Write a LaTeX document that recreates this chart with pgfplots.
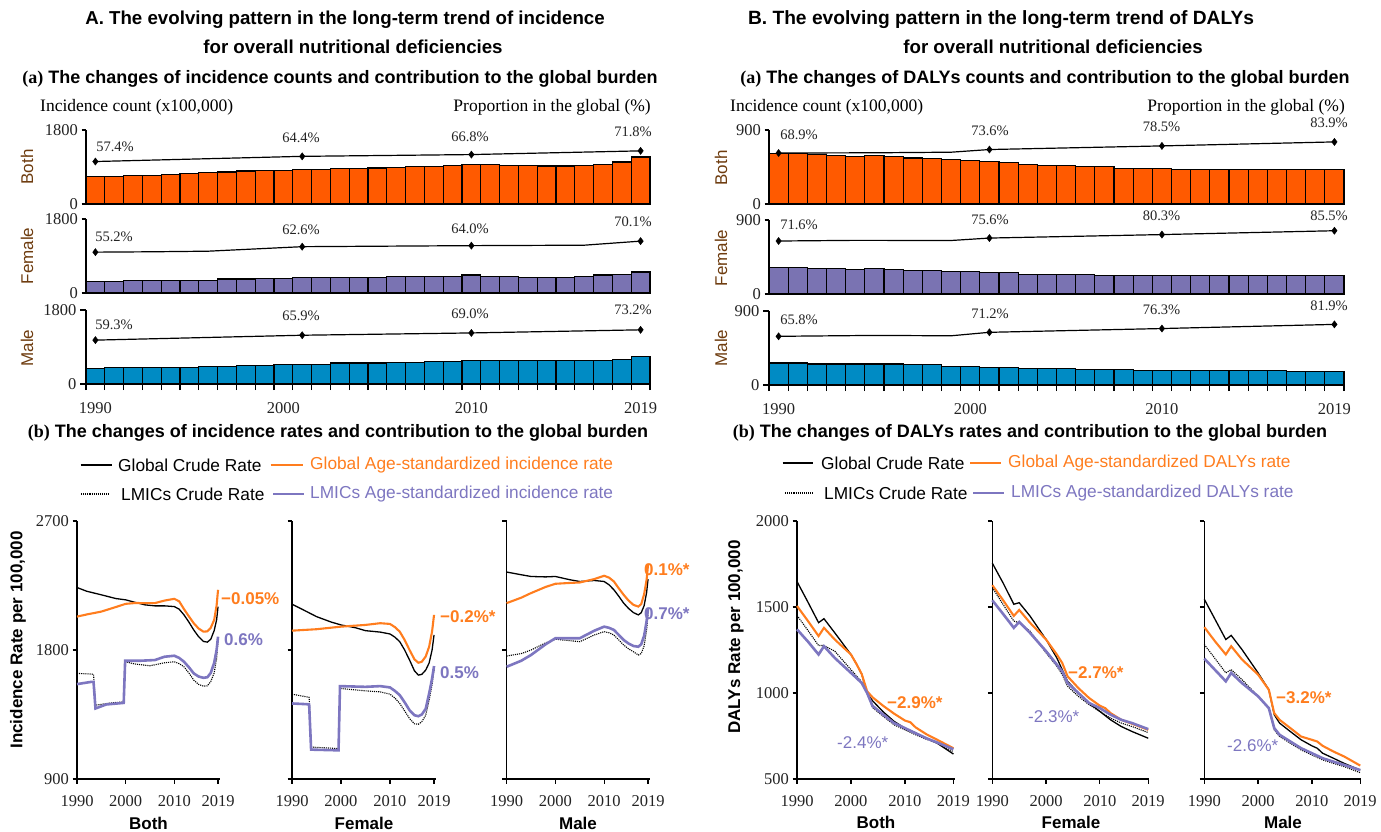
\documentclass[border=0pt]{standalone}
\usepackage{fontspec}
\setmainfont{Liberation Serif}
\setsansfont{Liberation Sans}
\usepackage{pgfplots}
\pgfplotsset{compat=1.18}
\definecolor{obar}{RGB}{255,90,0}
\definecolor{pbar}{RGB}{122,115,178}
\definecolor{bbar}{RGB}{0,139,196}
\definecolor{oline}{RGB}{255,125,30}
\definecolor{pline}{RGB}{125,118,192}
\definecolor{ylab}{RGB}{110,60,15}
\definecolor{pct}{RGB}{35,35,35}
\newcommand{\tickfont}{\fontsize{16.5}{16.5}\selectfont}
\newcommand{\pctfont}{\fontsize{14.5}{14.5}\selectfont}
\newcommand{\ttl}{\sffamily\bfseries\fontsize{18.7}{20}\selectfont}
\newcommand{\sttl}{\sffamily\bfseries\fontsize{18}{20}\selectfont}
\newcommand{\legf}{\sffamily\fontsize{17.3}{18}\selectfont}
\newcommand{\labf}{\sffamily\bfseries\fontsize{17}{18}\selectfont}
\newcommand{\T}[4][]{\node[inner sep=0pt,#1] at (#2pt,-#3pt) {#4};}
\pgfplotsset{
 barax/.style n args={4}{at={(#1pt,-#2pt)}, anchor=south west, scale only axis,
   width=#3pt, height=74pt, xmin=1989.5, xmax=2019.5, ymin=0, ymax=#4,
   ytick={0,#4}, yticklabels={0,#4}, ybar, bar width=1,
   axis x line*=bottom, axis y line*=left,
   axis line style={black, line width=1.3pt}, xtick=\empty,
   tick align=outside, major tick length=4.5pt, tick style={black, line width=1.3pt},
   yticklabel style={font=\tickfont, text=pct}, clip=false},
 maleticks/.style={xtick={1989.5,1990.5,...,2019.5}, xticklabels={},
   major tick length=6pt,
   extra x ticks={1990,2000,2010,2019}, extra x tick labels={1990,2000,2010,2019},
   extra x tick style={major tick length=0pt, xticklabel style={font=\tickfont, text=pct, yshift=-15pt}}},
 pctax/.style n args={3}{at={(#1pt,-#2pt)}, anchor=south west, scale only axis,
   width=#3pt, height=74pt, xmin=1989.5, xmax=2019.5, ymin=0, ymax=100,
   hide axis, clip=false},
 linax/.style n args={5}{at={(#1pt,-779pt)}, anchor=south west, scale only axis,
   width=#2pt, height=258pt, xmin=1990, xmax=#3, ymin=#4, ymax=#5,
   axis x line*=bottom, axis y line*=left,
   axis line style={black, line width=1.3pt},
   xtick={1990,2000,2010,2019}, xticklabels={1990,2000,2010,2019},
   tick align=outside, major tick length=4.5pt, tick style={black, line width=1.3pt},
   xticklabel style={font=\tickfont, text=pct, yshift=-8pt},
   yticklabel style={font=\tickfont, text=pct}, clip=false},
 bar/.style={fill=#1, draw=black, line width=1.1pt},
 pctmark/.style={only marks, mark=diamond*, mark size=3.6pt, mark options={fill=black, draw=black}},
}
\tikzset{
 pctline/.style={black, line width=1.2pt},
 gcr/.style={black, line width=1.3pt},
 gas/.style={oline, line width=2.1pt},
 lcr/.style={black, line width=1.1pt, densely dotted},
 las/.style={pline, line width=2.6pt},
}
\begin{document}
\begin{tikzpicture}
\useasboundingbox (0pt,0pt) rectangle (1381pt,-832pt);
% ---------------- titles A
\T{345}{20}{\ttl A. The evolving pattern in the long-term trend of incidence}
\T{353}{47}{\ttl for overall nutritional deficiencies}
\T{340}{79}{\sttl{\rmfamily(a)} The changes of incidence counts and contribution to the global burden}
\T[anchor=west]{40}{107}{\fontsize{17.5}{18}\selectfont Incidence count (x100,000)}
\T[anchor=east]{651}{107}{\fontsize{17.5}{18}\selectfont Proportion in the global (\%)}
% ---------------- titles B
\T{1001}{20}{\fontsize{19.2}{20}\selectfont\sffamily\bfseries B. The evolving pattern in the long-term trend of DALYs}
\T{1053}{47}{\ttl for overall nutritional deficiencies}
\T{1045}{79}{\sttl{\rmfamily(a)} The changes of DALYs counts and contribution to the global burden}
\T[anchor=west]{730}{107}{\fontsize{17.5}{18}\selectfont Incidence count (x100,000)}
\T[anchor=east]{1345}{107}{\fontsize{17.5}{18}\selectfont Proportion in the global (\%)}
% row labels
\T[rotate=90,text=ylab]{27}{167}{\sffamily\fontsize{17}{18}\selectfont Both}
\T[rotate=90,text=ylab]{27}{256}{\sffamily\fontsize{17}{18}\selectfont Female}
\T[rotate=90,text=ylab]{27}{348}{\sffamily\fontsize{17}{18}\selectfont Male}
\T[rotate=90,text=ylab]{721}{168}{\sffamily\fontsize{17}{18}\selectfont Both}
\T[rotate=90,text=ylab]{721}{258}{\sffamily\fontsize{17}{18}\selectfont Female}
\T[rotate=90,text=ylab]{721}{348}{\sffamily\fontsize{17}{18}\selectfont Male}

% ================= A(a) bars
\begin{axis}[barax={86}{204}{564}{1800}]
\addplot[bar=obar] coordinates {(1990,665)(1991,665)(1992,690)(1993,690)(1994,722)(1995,746)(1996,762)(1997,779)(1998,803)(1999,811)(2000,811)(2001,835)(2002,835)(2003,860)(2004,860)(2005,876)(2006,892)(2007,908)(2008,908)(2009,933)(2010,957)(2011,957)(2012,941)(2013,941)(2014,925)(2015,925)(2016,941)(2017,965)(2018,1022)(2019,1143)};
\end{axis}
\begin{axis}[pctax={86}{204}{564}]
\addplot[pctline] coordinates {(1990,57.4)(2001,64.4)(2010,66.8)(2019,71.8)};
\addplot[pctmark] coordinates {(1990,57.4)(2001,64.4)(2010,66.8)(2019,71.8)};
\end{axis}
\begin{axis}[barax={86}{293}{564}{1800}]
\addplot[bar=pbar] coordinates {(1990,284)(1991,284)(1992,308)(1993,308)(1994,308)(1995,308)(1996,308)(1997,340)(1998,340)(1999,357)(2000,357)(2001,381)(2002,381)(2003,381)(2004,381)(2005,381)(2006,405)(2007,405)(2008,405)(2009,405)(2010,438)(2011,405)(2012,405)(2013,381)(2014,381)(2015,381)(2016,405)(2017,438)(2018,454)(2019,511)};
\end{axis}
\begin{axis}[pctax={86}{293}{564}]
\addplot[pctline] coordinates {(1990,55.2)(1993,55.7)(1996,56.5)(2001,62.6)(2010,64.0)(2016,64.6)(2019,70.1)};
\addplot[pctmark] coordinates {(1990,55.2)(2001,62.6)(2010,64.0)(2019,70.1)};
\end{axis}
\begin{axis}[barax={86}{384}{564}{1800}, maleticks]
\addplot[bar=bbar] coordinates {(1990,377)(1991,393)(1992,393)(1993,393)(1994,410)(1995,410)(1996,427)(1997,427)(1998,460)(1999,460)(2000,477)(2001,477)(2002,477)(2003,511)(2004,511)(2005,511)(2006,527)(2007,527)(2008,544)(2009,544)(2010,578)(2011,578)(2012,578)(2013,578)(2014,578)(2015,578)(2016,578)(2017,578)(2018,603)(2019,661)};
\end{axis}
\begin{axis}[pctax={86}{384}{564}]
\addplot[pctline] coordinates {(1990,59.3)(2001,65.9)(2010,69.0)(2019,73.2)};
\addplot[pctmark] coordinates {(1990,59.3)(2001,65.9)(2010,69.0)(2019,73.2)};
\end{axis}
% pct labels A
\T[text=pct]{115}{146.7}{\pctfont 57.4\%}
\T[text=pct]{301}{138}{\pctfont 64.4\%}
\T[text=pct]{470}{136.5}{\pctfont 66.8\%}
\T[text=pct]{633}{131.7}{\pctfont 71.8\%}
\T[text=pct]{114}{236.7}{\pctfont 55.2\%}
\T[text=pct]{301}{229.3}{\pctfont 62.6\%}
\T[text=pct]{470}{228.3}{\pctfont 64.0\%}
\T[text=pct]{633}{221.7}{\pctfont 70.1\%}
\T[text=pct]{114}{324.3}{\pctfont 59.3\%}
\T[text=pct]{301}{316}{\pctfont 65.9\%}
\T[text=pct]{470}{313.3}{\pctfont 69.0\%}
\T[text=pct]{633}{310}{\pctfont 73.2\%}

% ================= B(a) bars
\begin{axis}[barax={769}{204}{575}{900}]
\addplot[bar=obar] coordinates {(1990,619)(1991,610)(1992,602)(1993,585)(1994,577)(1995,589)(1996,577)(1997,560)(1998,548)(1999,540)(2000,527)(2001,515)(2002,506)(2003,477)(2004,465)(2005,465)(2006,452)(2007,452)(2008,436)(2009,436)(2010,436)(2011,423)(2012,423)(2013,423)(2014,423)(2015,415)(2016,415)(2017,415)(2018,415)(2019,415)};
\end{axis}
\begin{axis}[pctax={769}{204}{575}]
\addplot[pctline] coordinates {(1990,68.9)(1995,69.2)(1999,70.0)(2001,73.6)(2010,78.5)(2019,83.9)};
\addplot[pctmark] coordinates {(1990,68.9)(2001,73.6)(2010,78.5)(2019,83.9)};
\end{axis}
\begin{axis}[barax={769}{294}{575}{900}]
\addplot[bar=pbar] coordinates {(1990,322)(1991,322)(1992,305)(1993,305)(1994,293)(1995,313)(1996,301)(1997,285)(1998,285)(1999,273)(2000,273)(2001,260)(2002,260)(2003,236)(2004,236)(2005,236)(2006,236)(2007,228)(2008,226)(2009,226)(2010,224)(2011,224)(2012,224)(2013,224)(2014,224)(2015,224)(2016,224)(2017,224)(2018,224)(2019,224)};
\end{axis}
\begin{axis}[pctax={769}{294}{575}]
\addplot[pctline] coordinates {(1990,71.6)(1994,72.5)(1999,72.3)(2001,75.6)(2010,80.3)(2019,85.5)};
\addplot[pctmark] coordinates {(1990,71.6)(2001,75.6)(2010,80.3)(2019,85.5)};
\end{axis}
\begin{axis}[barax={769}{385}{575}{900}, maleticks]
\addplot[bar=bbar] coordinates {(1990,268)(1991,268)(1992,256)(1993,256)(1994,256)(1995,256)(1996,256)(1997,244)(1998,244)(1999,227)(2000,227)(2001,215)(2002,215)(2003,198)(2004,198)(2005,198)(2006,186)(2007,186)(2008,186)(2009,173)(2010,173)(2011,173)(2012,173)(2013,173)(2014,173)(2015,173)(2016,173)(2017,165)(2018,165)(2019,165)};
\end{axis}
\begin{axis}[pctax={769}{385}{575}]
\addplot[pctline] coordinates {(1990,65.8)(1995,67.0)(1999,66.5)(2001,71.2)(2010,76.3)(2019,81.9)};
\addplot[pctmark] coordinates {(1990,65.8)(2001,71.2)(2010,76.3)(2019,81.9)};
\end{axis}
\T[text=pct]{799}{135}{\pctfont 68.9\%}
\T[text=pct]{990}{130.5}{\pctfont 73.6\%}
\T[text=pct]{1161.5}{126.5}{\pctfont 78.5\%}
\T[text=pct]{1329}{123}{\pctfont 83.9\%}
\T[text=pct]{799}{225}{\pctfont 71.6\%}
\T[text=pct]{990}{220}{\pctfont 75.6\%}
\T[text=pct]{1161.5}{216}{\pctfont 80.3\%}
\T[text=pct]{1329}{216}{\pctfont 85.5\%}
\T[text=pct]{799}{320}{\pctfont 65.8\%}
\T[text=pct]{990}{313.3}{\pctfont 71.2\%}
\T[text=pct]{1161.5}{309.3}{\pctfont 76.3\%}
\T[text=pct]{1329}{306}{\pctfont 81.9\%}

% ================= (b) titles and legends
\T{338}{433}{\sttl{\rmfamily(b)} The changes of incidence rates and contribution to the global burden}
\draw[gcr] (80.5pt,-465pt) -- (112pt,-465pt);
\T[anchor=west]{118}{465}{\legf Global Crude Rate}
\draw[oline,line width=1.5pt] (270.5pt,-465pt) -- (302.7pt,-465pt);
\T[anchor=west,text=oline]{310}{465}{\legf Global Age-standardized incidence rate}
\draw[black,line width=1.1pt,densely dotted] (81pt,-494pt) -- (110pt,-494pt);
\T[anchor=west]{121}{494}{\legf LMICs Crude Rate}
\draw[pline,line width=1.5pt] (273pt,-494pt) -- (304pt,-494pt);
\T[anchor=west,text=pline]{310}{494}{\legf LMICs Age-standardized incidence rate}

\T{1030}{433}{\sttl{\rmfamily(b)} The changes of DALYs rates and contribution to the global burden}
\draw[gcr] (782.6pt,-463pt) -- (813.4pt,-463pt);
\T[anchor=west]{821}{463}{\legf Global Crude Rate}
\draw[oline,line width=1.5pt] (970pt,-463pt) -- (1001pt,-463pt);
\T[anchor=west,text=oline]{1008}{463}{\legf Global Age-standardized DALYs rate}
\draw[black,line width=1.1pt,densely dotted] (785pt,-493pt) -- (813pt,-493pt);
\T[anchor=west]{824}{493}{\legf LMICs Crude Rate}
\draw[pline,line width=1.5pt] (973pt,-493pt) -- (1004pt,-493pt);
\T[anchor=west,text=pline]{1011}{493}{\legf LMICs Age-standardized DALYs rate}

\T[rotate=90]{18}{640}{\labf Incidence Rate per 100,000}
\T[rotate=90]{736}{637}{\labf DALYs Rate per 100,000}

% ================= A(b) lines
\begin{axis}[linax={77}{143}{2019.4}{900}{2700}, ytick={900,1800,2700}, yticklabels={900,1800,2700}]
\addplot[gcr] coordinates {(1990,2236)(1992,2210)(1995,2185)(1998,2159)(2000,2150)(2002,2132)(2004,2115)(2006,2108)(2008,2108)(2010,2103)(2011,2085)(2012,2045)(2013,1995)(2014,1940)(2015,1893)(2016,1860)(2016.8,1855)(2017.5,1875)(2018.2,1935)(2018.7,2010)(2019,2103)};
\addplot[gas] coordinates {(1990,2033)(1992,2048)(1995,2068)(1998,2100)(2000,2122)(2002,2128)(2004,2127)(2006,2127)(2008,2145)(2010,2157)(2011,2140)(2012,2085)(2013,2035)(2014,1987)(2015,1950)(2016,1928)(2016.8,1930)(2017.5,1955)(2018.2,2010)(2018.7,2110)(2019,2220)};
\addplot[lcr] coordinates {(1990,1637)(1993,1632)(1993.4,1630)(1993.8,1415)(1997,1431)(1999.6,1438)(1999.9,1718)(2002,1702)(2005,1690)(2008,1711)(2010,1718)(2011,1705)(2012,1683)(2013,1640)(2014,1590)(2015,1560)(2016,1548)(2016.8,1550)(2017.5,1580)(2018.2,1640)(2018.7,1740)(2019,1870)};
\addplot[las] coordinates {(1990,1562)(1993,1578)(1993.4,1578)(1993.8,1392)(1996,1420)(1999.6,1431)(1999.9,1725)(2003,1725)(2006,1730)(2008,1753)(2010,1760)(2011,1745)(2012,1718)(2013,1680)(2014,1637)(2015,1615)(2016,1606)(2016.8,1610)(2017.5,1640)(2018.2,1710)(2018.7,1800)(2019,1893)};
\end{axis}
\begin{axis}[linax={292}{144}{2019.4}{900}{2700}, ytick={900,1800,2700}, yticklabels={}]
\addplot[gcr] coordinates {(1990,2120)(1993,2068)(1995,2033)(1998,1995)(2000,1975)(2003,1955)(2005,1935)(2008,1925)(2010,1912)(2011,1890)(2012,1858)(2013,1800)(2014,1730)(2015,1655)(2015.8,1625)(2016.5,1630)(2017.3,1660)(2018,1710)(2018.6,1800)(2019,1905)};
\addplot[gas] coordinates {(1990,1935)(1995,1945)(2000,1963)(2005,1975)(2008,1987)(2010,1982)(2011,1960)(2012,1928)(2013,1870)(2014,1800)(2015,1735)(2015.8,1711)(2016.5,1718)(2017.3,1755)(2018,1823)(2018.6,1930)(2019,2045)};
\addplot[lcr] coordinates {(1990,1492)(1993,1473)(1993.5,1470)(1993.9,1123)(1999.5,1112)(1999.8,1532)(2005,1515)(2008,1508)(2010,1492)(2011,1465)(2012,1427)(2013,1375)(2014,1322)(2015,1285)(2015.8,1282)(2016.5,1300)(2017.3,1345)(2018,1450)(2018.6,1560)(2019,1660)};
\addplot[las] coordinates {(1990,1427)(1993,1422)(1993.5,1420)(1993.9,1105)(1999.5,1100)(1999.8,1548)(2005,1543)(2008,1548)(2010,1539)(2011,1515)(2012,1485)(2013,1435)(2014,1380)(2015,1345)(2015.8,1338)(2016.5,1350)(2017.3,1390)(2018,1497)(2018.6,1600)(2019,1688)};
\end{axis}
\begin{axis}[linax={506.6}{143.4}{2019.4}{900}{2700}, ytick={900,1800,2700}, yticklabels={}]
\addplot[gcr] coordinates {(1990,2344)(1993,2325)(1995,2313)(1998,2310)(2000,2313)(2003,2290)(2005,2278)(2008,2285)(2010,2278)(2011,2255)(2012,2220)(2013,2175)(2014,2127)(2015,2090)(2016,2061)(2017,2045)(2017.6,2060)(2018.2,2110)(2018.7,2200)(2019,2295)};
\addplot[gas] coordinates {(1990,2127)(1993,2165)(1995,2197)(1998,2240)(2000,2262)(2003,2268)(2005,2271)(2008,2295)(2010,2318)(2011,2305)(2012,2278)(2013,2230)(2014,2185)(2015,2145)(2016,2115)(2017,2103)(2017.6,2120)(2018.2,2190)(2018.7,2290)(2019,2395)};
\addplot[lcr] coordinates {(1990,1758)(1993,1775)(1995,1800)(1998,1850)(2000,1875)(2003,1865)(2005,1858)(2008,1905)(2010,1928)(2011,1920)(2012,1905)(2013,1870)(2014,1835)(2015,1808)(2016,1788)(2017,1765)(2017.6,1775)(2018.2,1830)(2018.7,1940)(2019,2045)};
\addplot[las] coordinates {(1990,1683)(1993,1725)(1995,1765)(1998,1840)(2000,1882)(2003,1882)(2005,1882)(2008,1935)(2010,1963)(2011,1955)(2012,1940)(2013,1905)(2014,1870)(2015,1845)(2016,1828)(2017,1823)(2017.6,1840)(2018.2,1900)(2018.7,2000)(2019,2092)};
\end{axis}
\T[anchor=west,text=oline]{221}{599}{\labf −0.05\%}
\T[anchor=west,text=pline]{224}{640}{\labf 0.6\%}
\T[anchor=west,text=oline]{440}{617}{\labf −0.2\%*}
\T[anchor=west,text=pline]{440}{673}{\labf 0.5\%}
\T[anchor=west,text=oline]{644}{570}{\labf 0.1\%*}
\T[anchor=west,text=pline]{644}{614}{\labf 0.7\%*}
\T{148.5}{823}{\labf Both}
\T{364}{823}{\labf Female}
\T{578}{823}{\labf Male}

% ================= B(b) lines
\begin{axis}[linax={797}{157.5}{2019.2}{500}{2000}, ytick={500,1000,1500,2000}, yticklabels={500,1000,1500,2000}]
\addplot[gcr] coordinates {(1990,1648)(1992,1530)(1994,1409)(1995,1432)(1997,1350)(2000,1224)(2001,1170)(2002,1110)(2003,1000)(2004,955)(2006,890)(2008,835)(2010,796)(2012,768)(2014,737)(2016,708)(2019,645)};
\addplot[gas] coordinates {(1990,1506)(1992,1420)(1994,1331)(1995,1379)(1997,1311)(2000,1224)(2001,1170)(2002,1110)(2003,1010)(2004,975)(2006,925)(2008,880)(2010,840)(2011,830)(2012,800)(2014,760)(2016,728)(2019,679)};
\addplot[lcr] coordinates {(1990,1451)(1992,1365)(1994,1276)(1995,1276)(1997,1243)(2000,1136)(2001,1100)(2002,1065)(2003,1000)(2004,915)(2006,864)(2008,815)(2010,786)(2012,757)(2014,731)(2016,708)(2019,659)};
\addplot[las] coordinates {(1990,1370)(1992,1300)(1994,1224)(1995,1272)(1997,1204)(2000,1117)(2001,1088)(2002,1058)(2003,1000)(2004,925)(2006,874)(2008,825)(2010,796)(2012,766)(2014,737)(2016,712)(2019,673)};
\end{axis}
\begin{axis}[linax={992.3}{157}{2019.2}{500}{2000}, ytick={500,1000,1500,2000}, yticklabels={}]
\addplot[gcr] coordinates {(1990,1755)(1992,1640)(1994,1516)(1995,1525)(1997,1448)(2000,1311)(2002,1204)(2003,1136)(2004,1068)(2006,1000)(2008,942)(2010,893)(2012,844)(2014,805)(2016,776)(2019,737)};
\addplot[gas] coordinates {(1990,1627)(1992,1540)(1994,1448)(1995,1483)(1997,1409)(2000,1311)(2002,1224)(2003,1175)(2004,1097)(2006,1029)(2008,971)(2010,926)(2011,912)(2012,883)(2014,844)(2016,821)(2019,786)};
\addplot[lcr] coordinates {(1990,1613)(1992,1515)(1994,1418)(1995,1409)(1997,1360)(2000,1233)(2002,1156)(2003,1107)(2004,1039)(2006,981)(2008,932)(2010,893)(2012,854)(2014,825)(2016,805)(2019,770)};
\addplot[las] coordinates {(1990,1539)(1992,1460)(1994,1379)(1995,1413)(1997,1350)(2000,1243)(2002,1165)(2003,1126)(2004,1058)(2006,1000)(2008,942)(2010,912)(2012,874)(2014,844)(2016,825)(2019,790)};
\end{axis}
\begin{axis}[linax={1204.3}{157}{2019.2}{500}{2000}, ytick={500,1000,1500,2000}, yticklabels={}]
\addplot[gcr] coordinates {(1990,1545)(1992,1428)(1994,1311)(1995,1335)(1997,1253)(2000,1117)(2002,1019)(2003,874)(2004,825)(2006,776)(2008,728)(2010,693)(2011,679)(2012,650)(2014,621)(2016,591)(2019,552)};
\addplot[gas] coordinates {(1990,1383)(1992,1300)(1994,1224)(1995,1272)(1997,1195)(2000,1107)(2002,1019)(2003,883)(2004,844)(2006,796)(2008,747)(2010,728)(2011,718)(2012,693)(2014,660)(2016,631)(2019,578)};
\addplot[lcr] coordinates {(1990,1282)(1992,1200)(1994,1117)(1995,1136)(1997,1078)(2000,981)(2002,912)(2003,786)(2004,747)(2006,708)(2008,669)(2010,640)(2012,611)(2014,591)(2016,572)(2019,537)};
\addplot[las] coordinates {(1990,1200)(1992,1134)(1994,1068)(1995,1117)(1997,1058)(2000,981)(2002,912)(2003,796)(2004,757)(2006,718)(2008,679)(2010,650)(2012,621)(2014,601)(2016,582)(2019,552)};
\end{axis}
\T[anchor=west,text=oline]{887}{703}{\labf −2.9\%*}
\T[anchor=west,text=pline]{837}{743}{\sffamily\fontsize{17}{18}\selectfont -2.4\%*}
\T[anchor=west,text=oline]{1068}{673}{\labf −2.7\%*}
\T[anchor=west,text=pline]{1028}{717}{\sffamily\fontsize{17}{18}\selectfont -2.3\%*}
\T[anchor=west,text=oline]{1276}{698}{\labf −3.2\%*}
\T[anchor=west,text=pline]{1227}{746}{\sffamily\fontsize{17}{18}\selectfont -2.6\%*}
\T{876}{822}{\labf Both}
\T{1071}{822}{\labf Female}
\T{1283}{822}{\labf Male}
\end{tikzpicture}
\end{document}
